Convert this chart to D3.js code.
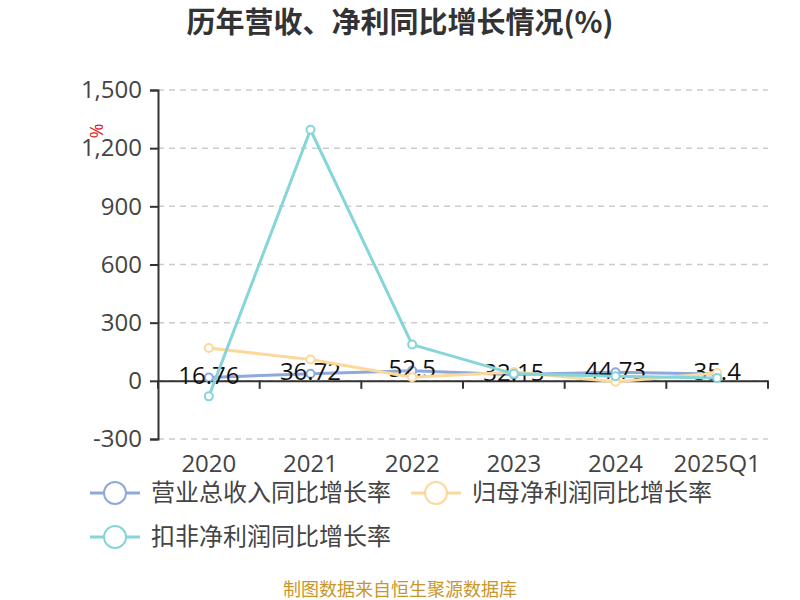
<!DOCTYPE html>
<html>
<head>
<meta charset="utf-8">
<script src="https://cdn.jsdelivr.net/npm/d3@7/dist/d3.min.js"></script>
<style>
  html, body { margin: 0; padding: 0; background: #fff; }
  svg { display: block; font-family: "Noto Sans CJK SC", "Noto Sans", sans-serif; }
</style>
</head>
<body>
<svg id="chart" width="800" height="600"></svg>
<script>
// Categories and year-over-year growth series (%)
const categories = ["2020", "2021", "2022", "2023", "2024", "2025Q1"];
const revenueGrowth = [16.76, 36.72, 52.5, 32.15, 44.73, 35.4];
const netProfitGrowth = [169, 110, 19, 45, -5, 40];
const deductedProfitGrowth = [-80, 1295, 187, 36, 24, 15];
const yTicks = [-300, 0, 300, 600, 900, 1200, 1500];
const seriesNames = ["营业总收入同比增长率", "归母净利润同比增长率", "扣非净利润同比增长率"];
const seriesColors = ["#8fa9dc", "#fdd89b", "#86d5d9"];

const svg = d3.select("#chart");
const plotLeft = 158, plotRight = 768, plotTop = 90, plotBottom = 439;
const numFont = "'Open Sans', 'Noto Sans', sans-serif";

const x = d3.scaleBand().domain(categories).range([plotLeft, plotRight]);
const y = d3.scaleLinear().domain([-300, 1500]).range([plotBottom, plotTop]);
const cx = d => x(d) + x.bandwidth() / 2;
const fmt = d => d3.format(",")(d).replace("\u2212", "-");

// Title
svg.append("text")
  .attr("x", 400).attr("y", 33)
  .attr("text-anchor", "middle")
  .attr("font-size", 29).attr("font-weight", "bold").attr("fill", "#333")
  .text("历年营收、净利同比增长情况(%)");

// Dashed grid lines
svg.append("g").selectAll("line").data(yTicks).join("line")
  .attr("x1", plotLeft).attr("x2", plotRight)
  .attr("y1", d => y(d)).attr("y2", d => y(d))
  .attr("stroke", "#ccc").attr("stroke-width", 1.5)
  .attr("stroke-dasharray", "6,5");

// Y axis
const yAxis = svg.append("g")
  .attr("transform", `translate(${plotLeft},0)`)
  .call(d3.axisLeft(y).tickValues(yTicks).tickFormat(fmt).tickSize(8).tickPadding(8));
yAxis.select(".domain").attr("stroke", "#333").attr("stroke-width", 2);
yAxis.selectAll(".tick line").attr("stroke", "#333").attr("stroke-width", 2);
yAxis.selectAll(".tick text").attr("font-size", 24).attr("fill", "#444")
  .attr("font-family", numFont);

// Unit marker, turned on its side
svg.append("text")
  .attr("transform", "translate(96,131) rotate(90)")
  .attr("text-anchor", "middle")
  .attr("dy", "0.35em")
  .attr("font-size", 18).attr("fill", "#e02020")
  .attr("font-family", numFont)
  .text("%");

// X axis on the zero line
const xAxis = svg.append("g")
  .attr("transform", `translate(0,${y(0)})`)
  .call(d3.axisBottom(x).tickValues([]).tickSizeOuter(0));
xAxis.select(".domain").attr("stroke", "#333").attr("stroke-width", 2);
const xTickPos = d3.range(categories.length + 1).map(i => plotLeft + i * x.bandwidth());
svg.append("g").selectAll("line").data(xTickPos).join("line")
  .attr("x1", d => d).attr("x2", d => d)
  .attr("y1", y(0)).attr("y2", y(0) + 8)
  .attr("stroke", "#333").attr("stroke-width", 2);

// Category labels below the grid
svg.append("g").selectAll("text").data(categories).join("text")
  .attr("x", d => cx(d)).attr("y", 472)
  .attr("text-anchor", "middle")
  .attr("font-size", 24).attr("fill", "#444")
  .attr("font-family", numFont)
  .text(d => d);

const line = d3.line().x((d, i) => cx(categories[i])).y(d => y(d));
const allSeries = [revenueGrowth, netProfitGrowth, deductedProfitGrowth];

allSeries.forEach((vals, si) => {
  const g = svg.append("g");
  g.append("path").datum(vals)
    .attr("d", line)
    .attr("fill", "none").attr("stroke", seriesColors[si])
    .attr("stroke-width", 3).attr("stroke-linejoin", "round");
  g.selectAll("circle").data(vals).join("circle")
    .attr("cx", (d, i) => cx(categories[i])).attr("cy", d => y(d))
    .attr("r", 4).attr("fill", "#fff")
    .attr("stroke", seriesColors[si]).attr("stroke-width", 2);
  if (si === 0) {
    g.selectAll("text").data(vals).join("text")
      .attr("x", (d, i) => cx(categories[i])).attr("y", d => y(d) - 2)
      .attr("dy", "0.35em")
      .attr("text-anchor", "middle")
      .attr("font-size", 24).attr("fill", "#111")
      .attr("font-family", numFont)
      .text(d => d);
  }
});

// Legend
const legendItems = [
  { name: seriesNames[0], color: seriesColors[0], x: 90, y: 493 },
  { name: seriesNames[1], color: seriesColors[1], x: 411, y: 493 },
  { name: seriesNames[2], color: seriesColors[2], x: 90, y: 537 }
];
const lg = svg.append("g").selectAll("g").data(legendItems).join("g")
  .attr("transform", d => `translate(${d.x},${d.y})`);
lg.append("line").attr("x1", 0).attr("x2", 50).attr("y1", 0).attr("y2", 0)
  .attr("stroke", d => d.color).attr("stroke-width", 3);
lg.append("circle").attr("cx", 25).attr("cy", 0).attr("r", 11)
  .attr("fill", "#fff").attr("stroke", d => d.color).attr("stroke-width", 2);
lg.append("text").attr("x", 61).attr("y", 0).attr("dy", "0.35em")
  .attr("font-size", 24).attr("fill", "#444")
  .text(d => d.name);

// Source note
svg.append("text")
  .attr("x", 400).attr("y", 596)
  .attr("text-anchor", "middle")
  .attr("font-size", 18).attr("fill", "#c9962a")
  .text("制图数据来自恒生聚源数据库");
</script>
</body>
</html>
